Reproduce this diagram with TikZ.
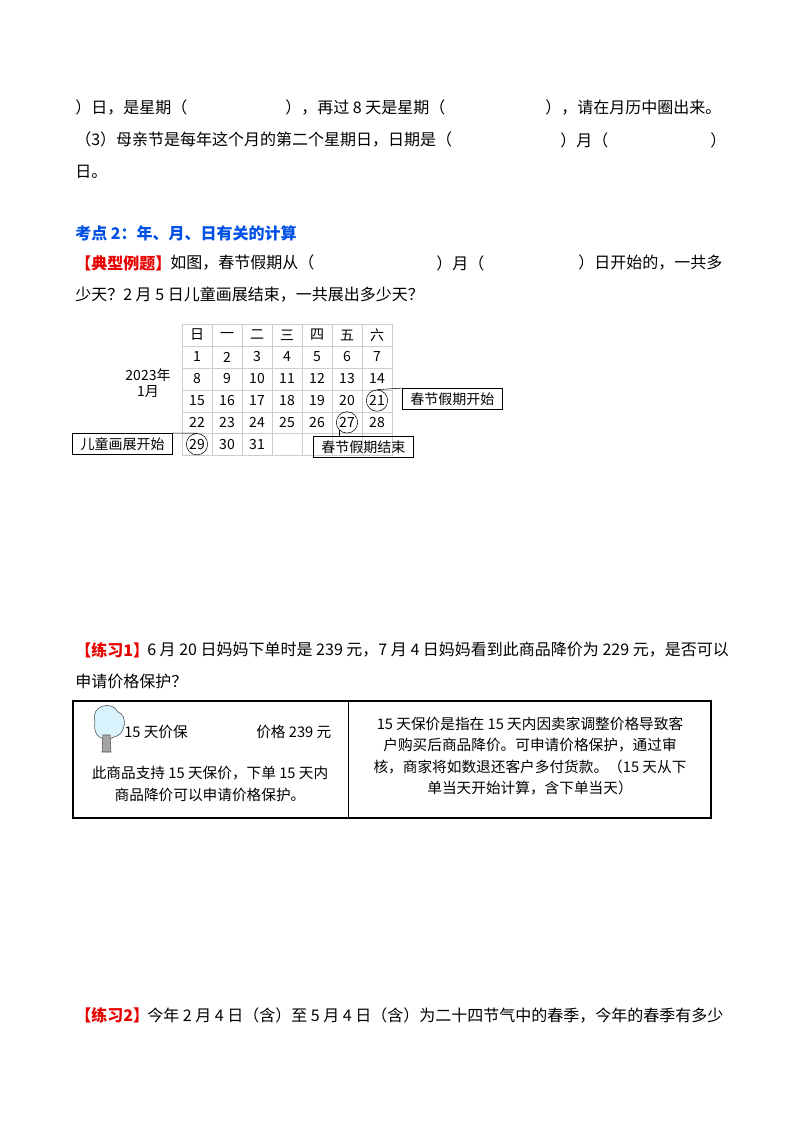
\documentclass[tikz,border=0pt]{standalone}
\usepackage{fontspec}
\setmainfont{Liberation Serif}
\newfontfamily\cjk{Noto Sans CJK SC}
\usetikzlibrary{positioning}
\tikzset{
  txt/.style={anchor=west,inner sep=0pt,font=\cjk\fontsize{12}{14}\selectfont},
  cal/.style={inner sep=0pt,font=\cjk\fontsize{10.5}{12}\selectfont},
  lbl/.style={draw,inner sep=2pt,minimum height=16pt,minimum width=75pt,font=\cjk\fontsize{10.5}{12}\selectfont},
  ring/.style={draw,circle,minimum size=16pt,inner sep=0pt},
  tbl/.style={align=center,inner sep=0pt,font=\cjk\fontsize{11}{16}\selectfont}
}
\definecolor{keyblue}{RGB}{0,80,230}
\definecolor{keyred}{RGB}{230,0,0}
\begin{document}
\begin{tikzpicture}[x=0.75pt,y=-0.75pt]
	\useasboundingbox (0,0) rectangle (800,1132);
	% upper question text
	\node[txt] (l1a) at (75,108) {）日，是星期（};
	\node[txt] (l1b) at (285,108) {），再过 8 天是星期（};
	\node[txt] (l1c) at (545,108) {），请在月历中圈出来。};
	\node[txt] (l2a) at (75,140) {（3）母亲节是每年这个月的第二个星期日，日期是（};
	\node[txt] (l2b) at (560,140) {）月（};
	\node[txt] (l2c) at (710,140) {）};
	\node[txt] (l3) at (75,172) {日。};
	\node[txt,text=keyblue,font=\cjk\bfseries\fontsize{12}{14}\selectfont] (kd) at (75,233) {考点 2：年、月、日有关的计算};
	\node[txt,text=keyred,font=\cjk\bfseries\fontsize{12}{14}\selectfont] (ex) at (75,263) {【典型例题】};
	\node[txt] (exa) at (170,263) {如图，春节假期从（};
	\node[txt] (exb) at (436,263) {）月（};
	\node[txt] (exc) at (578,263) {）日开始的，一共多};
	\node[txt] (exd) at (75,295) {少天？2 月 5 日儿童画展结束，一共展出多少天？};
	% calendar
	\draw[black!20] (182,324) rectangle (392,455);
	\foreach \x in {212,242,...,362} \draw[black!20] (\x,324) -- (\x,455);
	\foreach \y in {346,368,390,412,433} \draw[black!20] (182,\y) -- (392,\y);
	\foreach \w [count=\i from 0] in {日,一,二,三,四,五,六}
		\node[cal] (h\i) at (197+30*\i,335) {\w};
	\foreach \d in {1,...,31}{
		\pgfmathtruncatemacro{\c}{mod(\d-1,7)}
		\pgfmathtruncatemacro{\r}{div(\d-1,7)}
		\node[cal] (d\d) at (197+30*\c,357+21.8*\r) {\d};
	}
	\node[cal,align=center] (mon) at (148,383) {2023年\\1月};
	\node[ring] (c21) at (d21) {};
	\node[ring] (c27) at (d27) {};
	\node[ring] (c29) at (d29) {};
	\node[lbl,anchor=west] (bstart) at (402,399) {春节假期开始};
	\node[lbl,anchor=north west] (bend) at (313,436) {春节假期结束};
	\node[lbl,anchor=north east] (bart) at (173,433) {儿童画展开始};
	\draw (c21.north) -- (bstart.north west);
	\draw (c27.south west) -- (c27.south west |- bend.north);
	\draw (bart.north east) -- (c29.north);
	% practice 1
	\node[txt,text=keyred,font=\cjk\bfseries\fontsize{12}{14}\selectfont] (p1) at (75,650) {【练习1】};
	\node[txt] (p1a) at (147,650) {6 月 20 日妈妈下单时是 239 元，7 月 4 日妈妈看到此商品降价为 229 元，是否可以};
	\node[txt] (p1b) at (75,681) {申请价格保护？};
	\draw[thick] (73,701) rectangle (711,818);
	\draw (348,701) -- (348,818);
	\fill[cyan!15,draw=black!70] (95,722) .. controls (90,705) and (112,700) .. (118,712) .. controls (128,715) and (126,735) .. (114,737) .. controls (105,742) and (92,738) .. (95,722) -- cycle;
	\fill[black!35,draw=black!70] (103,735) -- (110,735) -- (111,752) -- (102,752) -- cycle;
	\node[tbl,anchor=west] (t1) at (124,732) {15 天价保};
	\node[tbl,anchor=west] (t2) at (256,732) {价格 239 元};
	\node[tbl] (t3) at (210,784) {此商品支持 15 天保价，下单 15 天内\\商品降价可以申请价格保护。};
	\node[tbl] (t4) at (530,756) {15 天保价是指在 15 天内因卖家调整价格导致客\\户购买后商品降价。可申请价格保护，通过审\\核，商家将如数退还客户多付货款。（15 天从下\\单当天开始计算，含下单当天）};
	% practice 2
	\node[txt,text=keyred,font=\cjk\bfseries\fontsize{12}{14}\selectfont] (p2) at (75,1015) {【练习2】};
	\node[txt] (p2a) at (147,1015) {今年 2 月 4 日（含）至 5 月 4 日（含）为二十四节气中的春季，今年的春季有多少};
\end{tikzpicture}
\end{document}
